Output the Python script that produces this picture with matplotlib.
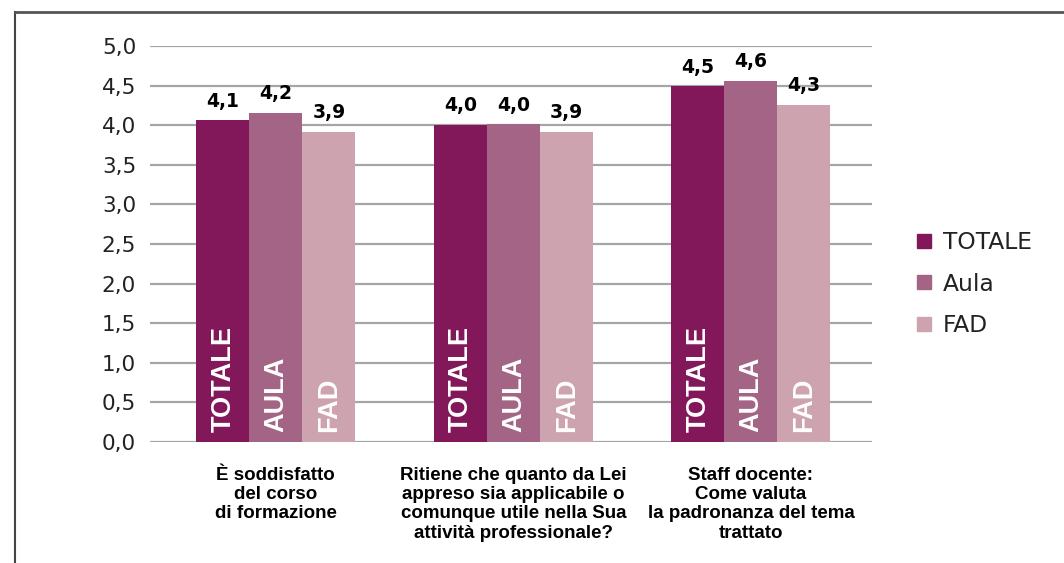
import numpy as np
import matplotlib
matplotlib.use('Agg')
import matplotlib.pyplot as plt
from matplotlib.lines import Line2D

# Data
categories = ['È soddisfatto\ndel corso\ndi formazione',
              'Ritiene che quanto da Lei\nappreso sia applicabile o\ncomunque utile nella Sua\nattività professionale?',
              'Staff docente:\nCome valuta\nla padronanza del tema\ntrattato']
series_names = ['TOTALE', 'Aula', 'FAD']
bar_texts = ['TOTALE', 'AULA', 'FAD']
totale = [4.06, 4.00, 4.49]
aula = [4.16, 4.01, 4.56]
fad = [3.92, 3.91, 4.26]
y_ticks = [0.0, 0.5, 1.0, 1.5, 2.0, 2.5, 3.0, 3.5, 4.0, 4.5, 5.0]

colors = ['#82175a', '#a36486', '#cea3b0']
plt.rcParams['font.family'] = ['Liberation Sans', 'DejaVu Sans']

fig = plt.figure(figsize=(10.64, 5.63), dpi=100)
ax = fig.add_axes([150 / 1064, 1 - 442 / 563, (872 - 150) / 1064, (442 - 46) / 563])

x = np.arange(len(categories))
width = 0.223
series = [totale, aula, fad]

for i, vals in enumerate(series):
    pos = x + (i - 1) * width
    bars = ax.bar(pos, vals, width, color=colors[i], label=series_names[i], zorder=3)
    for b, v in zip(bars, vals):
        # value label above bar
        ax.annotate(f'{v:.1f}'.replace('.', ','), (b.get_x() + b.get_width() / 2, v),
                    xytext=(0, 10), textcoords='offset points', ha='center', va='baseline',
                    fontsize=13.5, fontweight='bold', color='black', family='DejaVu Sans')
        # vertical label inside the bar
        ax.annotate(bar_texts[i], (b.get_x() + b.get_width() / 2, 0),
                    xytext=(0.5, 7), textcoords='offset points', ha='center', va='bottom',
                    rotation=90, fontsize=19.5, fontweight='bold', color='white', zorder=4,
                    family='Liberation Sans')

ax.set_xlim(-0.53, 2.51)
ax.set_ylim(0, 5)
ax.set_yticks(y_ticks)
ax.set_yticklabels([f'{t:.1f}'.replace('.', ',') for t in y_ticks], fontsize=15.5,
                   color='#222222', family='DejaVu Sans')
ax.set_xticks(x)
ax.set_xticklabels(categories, fontsize=13.5, fontweight='bold', linespacing=1.17)
ax.tick_params(axis='both', length=0)
ax.tick_params(axis='y', pad=10)
ax.tick_params(axis='x', pad=18)
ax.yaxis.grid(True, color='#a6a6a6', linewidth=1.6, zorder=0)
for s in ax.spines.values():
    s.set_visible(False)

handles = [Line2D([], [], marker='s', linestyle='none', markersize=9.5, color=c) for c in colors]
fig.legend(handles, series_names, loc='center left', bbox_to_anchor=(915 / 1064, 1 - 284 / 563),
           frameon=False, borderpad=0, borderaxespad=0, handlelength=0.8,
           prop={'family': 'DejaVu Sans', 'size': 16.8},
           handletextpad=0.4, labelspacing=0.8, labelcolor='#222222')

# outer frame (left and top only)
fig.add_artist(Line2D([15 / 1064, 15 / 1064], [0, 1 - 12 / 563], color='#444444', linewidth=1.5))
fig.add_artist(Line2D([15 / 1064, 1], [1 - 12 / 563, 1 - 12 / 563], color='#555555', linewidth=2))

fig.savefig('out.png', dpi=100, facecolor='white')
